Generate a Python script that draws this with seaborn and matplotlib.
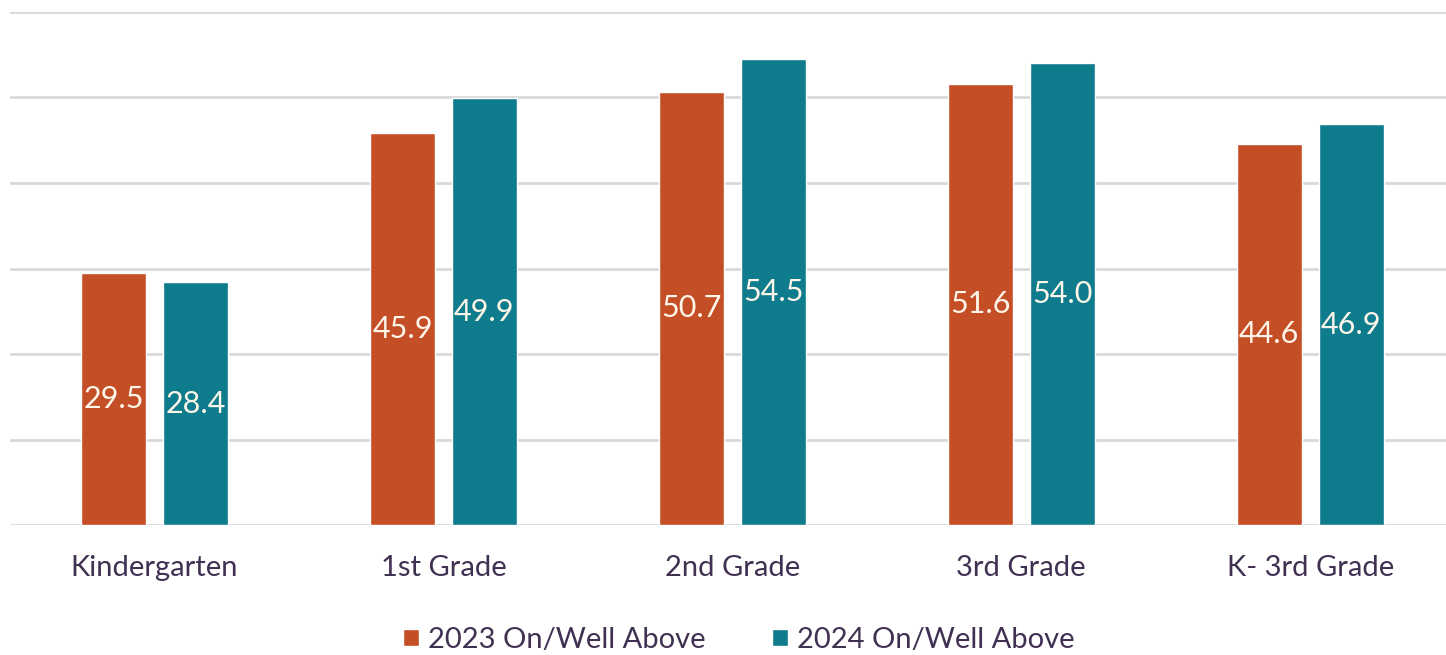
import matplotlib
matplotlib.use("Agg")
import matplotlib.pyplot as plt
import pandas as pd
import seaborn as sns

grades = ["Kindergarten", "1st Grade", "2nd Grade", "3rd Grade", "K- 3rd Grade"]
series = ["2023 On/Well Above", "2024 On/Well Above"]
vals_2023 = [29.5, 45.9, 50.7, 51.6, 44.6]
vals_2024 = [28.4, 49.9, 54.5, 54.0, 46.9]

my_pal = {"2023 On/Well Above": "#C44E26", "2024 On/Well Above": "#0E7C8C"}
text_color = "#403152"

rows = []
for g, a, b in zip(grades, vals_2023, vals_2024):
    rows.append([g, series[0], a])
    rows.append([g, series[1], b])
df = pd.DataFrame(rows, columns=["grade", "year", "pct"])

sns.set_style("white")
plt.rcParams["font.family"] = ["Lato", "DejaVu Sans"]

fig = plt.figure(figsize=(14.46, 6.55), dpi=100)
ax = fig.add_axes([10 / 1446, 130 / 655, 1 - 10 / 1446, 513 / 655])

sns.barplot(data=df, x="grade", y="pct", hue="year", palette=my_pal, order=grades,
            hue_order=series, width=0.567, gap=0.207, ax=ax, saturation=1, legend=True)

for cont in ax.containers:
    ax.bar_label(cont, fmt="%.1f", label_type="center", color="#FFF6EA", fontsize=22)

ax.set_ylim(0, 60)
ax.set_xlim(-0.5, 4.47)
ax.set_yticks(range(0, 61, 10))
ax.yaxis.grid(True, color="#D9D9D9", linewidth=2)
ax.set_axisbelow(True)
ax.tick_params(axis="y", left=False, labelleft=False)
ax.tick_params(axis="x", bottom=False, labelsize=21, labelcolor=text_color, pad=18)
ax.set_xlabel("")
ax.set_ylabel("")
sns.despine(ax=ax, left=True, bottom=True, right=True, top=True)

handles, labels = ax.get_legend_handles_labels()
ax.get_legend().remove()
fig.legend(handles, labels, loc="center", bbox_to_anchor=(0.511, 1 - 640 / 655), ncol=2,
           frameon=False, fontsize=21, labelcolor=text_color, handlelength=0.55,
           handleheight=0.55, handletextpad=0.3, columnspacing=2.3)

fig.savefig("out.png", dpi=100)
